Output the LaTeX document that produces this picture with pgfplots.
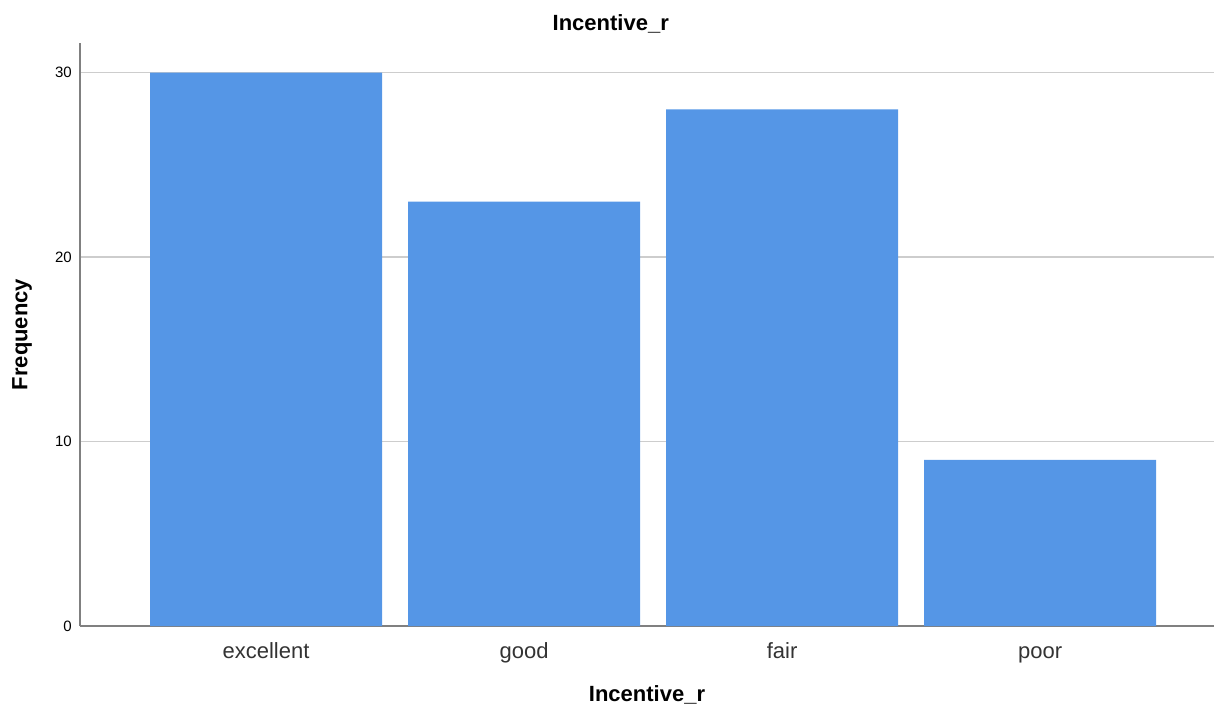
\documentclass[border=0pt]{standalone}
\usepackage{pgfplots}
\pgfplotsset{compat=1.18}
\usepackage{fontspec}
\setmainfont{Liberation Sans}
\definecolor{barblue}{RGB}{85,150,230}
\definecolor{gridgray}{RGB}{205,205,205}
\definecolor{axgray}{RGB}{128,128,128}
\begin{document}
\begin{tikzpicture}
\useasboundingbox (0,0) rectangle (1214pt,709pt);
\begin{axis}[
  at={(80pt,83pt)}, anchor=south west,
  scale only axis, width=1134pt, height=583pt,
  xmin=-0.721, xmax=3.674, ymin=0, ymax=31.6,
  axis x line*=bottom, axis y line*=left,
  axis line style={draw=axgray, line width=1.3pt, -},
  xtick={0,1,2,3}, xticklabels={excellent,good,fair,poor},
  ytick={0,10,20,30},
  major tick length=0pt,
  ymajorgrids, grid style={draw=gridgray, line width=1.4pt},
  /pgf/number format/assume math mode=true,
  xticklabel style={font=\fontsize{22}{26}\selectfont, text=black!80, anchor=base, yshift=-32pt},
  yticklabel style={font=\fontsize{15}{18}\selectfont, text=black, anchor=east, inner sep=0pt, xshift=-8pt},
  title={Incentive\_r},
  title style={font=\bfseries\fontsize{22}{26}\selectfont, at={(axis description cs:0.468,1)}, anchor=center, yshift=13pt},
  xlabel={Incentive\_r},
  xlabel style={font=\bfseries\fontsize{22}{26}\selectfont, at={(axis description cs:0.5,-0.118)}, anchor=center},
  ylabel={Frequency},
  ylabel style={font=\bfseries\fontsize{22}{26}\selectfont, at={(axis description cs:-0.0511,0.5)}, anchor=center},
]
\addplot[ybar, bar width=0.899, fill=barblue, draw=none] coordinates {(0,30) (1,23) (2,28) (3,9)};
\end{axis}
\end{tikzpicture}
\end{document}
